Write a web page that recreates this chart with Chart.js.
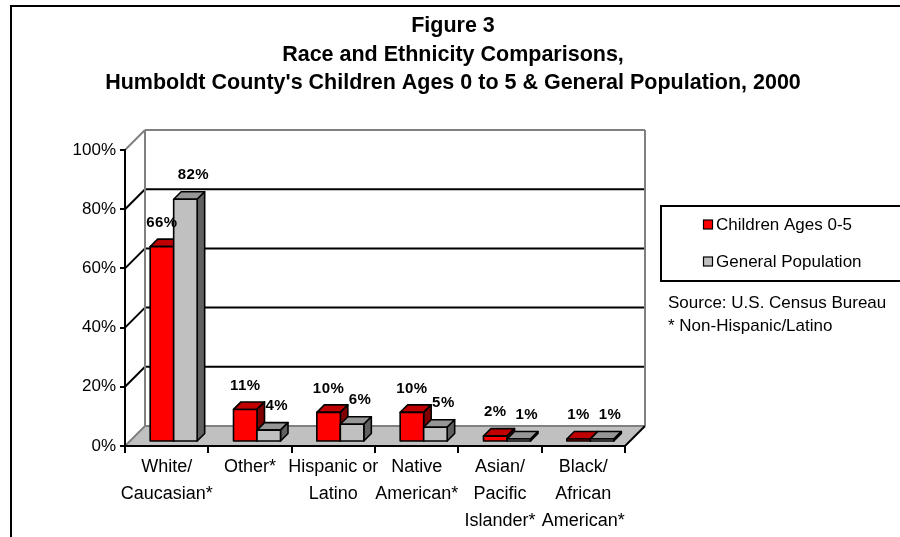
<!DOCTYPE html>
<html>
<head>
<meta charset="utf-8">
<title>Race and Ethnicity Comparisons</title>
<script src="https://cdn.jsdelivr.net/npm/chart.js@4/dist/chart.umd.min.js"></script>
<style>
    html, body { margin: 0; padding: 0; background: #fff; }
    canvas { display: block; }
</style>
</head>
<body>
<canvas id="chart" width="900" height="537"></canvas>
<script>
const FONT = '"Liberation Sans", Arial, sans-serif'

const titleLines = [
    'Figure 3',
    'Race and Ethnicity Comparisons,',
    "Humboldt County's Children Ages 0 to 5 & General Population, 2000"
]
const categories = [
    ['White/', 'Caucasian*'],
    ['Other*'],
    ['Hispanic or', 'Latino'],
    ['Native', 'American*'],
    ['Asian/', 'Pacific', 'Islander*'],
    ['Black/', 'African', 'American*']
]
const childrenPct = [66, 11, 10, 10, 2, 1]
const generalPct = [82, 4, 6, 5, 1, 1]
const yTickStep = 20
const notes = ['Source: U.S. Census Bureau', '* Non-Hispanic/Latino']

// oblique depth: back wall offset, bar front offset, bar thickness
const WALL = 20
const FRONT_X = 7
const FRONT_Y = 4
const DEPTH = 7.5

function poly(ctx, pts, fill, stroke, width) {
    ctx.beginPath()
    ctx.moveTo(pts[0][0], pts[0][1])
    for (let i = 1; i < pts.length; i++) ctx.lineTo(pts[i][0], pts[i][1])
    ctx.closePath()
    if (fill) {
        ctx.fillStyle = fill
        ctx.fill()
    }
    if (stroke) {
        ctx.strokeStyle = stroke
        ctx.lineWidth = width
        ctx.stroke()
    }
}

function line(ctx, x1, y1, x2, y2, color, width) {
    ctx.beginPath()
    ctx.moveTo(x1, y1)
    ctx.lineTo(x2, y2)
    ctx.strokeStyle = color
    ctx.lineWidth = width
    ctx.stroke()
}

const box3d = {
    id: 'box3d',
    beforeDraw(chart) {
        const { ctx, chartArea: a, scales } = chart
        const y = scales.y
        ctx.save()
        ctx.fillStyle = '#fff'
        ctx.fillRect(0, 0, chart.width, chart.height)
        ctx.strokeStyle = '#000'
        ctx.lineWidth = 2
        ctx.strokeRect(11, 6, 900, 540)

        // back wall grid
        for (let v = yTickStep; v < 100; v += yTickStep) {
            const py = y.getPixelForValue(v)
            line(ctx, a.left, py, a.left + WALL, py - WALL, '#000', 2)
            line(ctx, a.left + WALL, py - WALL, a.right + WALL, py - WALL, '#000', 2)
        }
        const top = y.getPixelForValue(100)
        line(ctx, a.left, top, a.left + WALL, top - WALL, '#808080', 2)
        line(ctx, a.left + WALL, top - WALL, a.right + WALL, top - WALL, '#808080', 2)
        line(ctx, a.left + WALL, top - WALL, a.left + WALL, a.bottom - WALL, '#808080', 2)
        line(ctx, a.right + WALL, top - WALL, a.right + WALL, a.bottom - WALL, '#808080', 2)

        // floor
        poly(ctx, [
            [a.left, a.bottom], [a.right, a.bottom],
            [a.right + WALL, a.bottom - WALL], [a.left + WALL, a.bottom - WALL]
        ], '#c0c0c0')
        line(ctx, a.left + WALL, a.bottom - WALL, a.right + WALL, a.bottom - WALL, '#808080', 2)
        line(ctx, a.left, a.bottom, a.left + WALL, a.bottom - WALL, '#808080', 2)
        line(ctx, a.right, a.bottom, a.right + WALL, a.bottom - WALL, '#000', 2)
        ctx.restore()
    },
    afterDatasetsDraw(chart) {
        const { ctx } = chart
        ctx.save()
        ctx.lineJoin = 'round'
        const metas = chart.data.datasets.map((ds, i) => chart.getDatasetMeta(i))
        categories.forEach((cat, i) => {
            metas.forEach((meta, d) => {
                const ds = chart.data.datasets[d]
                const el = meta.data[i]
                const { x, y, base, width } = el.getProps(['x', 'y', 'base', 'width'], true)
                const l = x - width / 2 + FRONT_X
                const r = x + width / 2 + FRONT_X
                const t = y - FRONT_Y
                const b = base - FRONT_Y
                poly(ctx, [[l, t], [r, t], [r + DEPTH, t - DEPTH], [l + DEPTH, t - DEPTH]], ds.topColor, '#000', 1.6)
                poly(ctx, [[r, t], [r + DEPTH, t - DEPTH], [r + DEPTH, b - DEPTH], [r, b]], ds.sideColor, '#000', 1.6)
                poly(ctx, [[l, t], [r, t], [r, b], [l, b]], ds.faceColor, '#000', 1.6)
            })
        })
        // value labels
        ctx.fillStyle = '#000'
        ctx.font = 'bold 15px ' + FONT
        ctx.letterSpacing = '0.5px'
        ctx.textAlign = 'center'
        ctx.textBaseline = 'middle'
        metas.forEach((meta, d) => {
            const ds = chart.data.datasets[d]
            meta.data.forEach((el, i) => {
                const { x, y } = el.getProps(['x', 'y'], true)
                ctx.fillText(ds.data[i] + '%', x + FRONT_X + ds.labelShift, y - FRONT_Y - 24)
            })
        })
        ctx.restore()
    },
    afterDraw(chart) {
        const { ctx } = chart
        ctx.save()
        ctx.fillStyle = '#000'
        ctx.textAlign = 'center'
        ctx.textBaseline = 'alphabetic'
        ctx.font = 'bold 21.5px ' + FONT
        const baselines = [32, 60.5, 89]
        titleLines.forEach((t, i) => ctx.fillText(t, 453, baselines[i]))

        // legend
        ctx.strokeStyle = '#000'
        ctx.lineWidth = 2
        ctx.strokeRect(661, 206, 260, 75)
        ctx.font = '17px ' + FONT
        ctx.textAlign = 'left'
        ctx.textBaseline = 'middle'
        chart.data.datasets.forEach((ds, i) => {
            const cy = 224 + i * 37
            ctx.fillStyle = ds.faceColor
            ctx.fillRect(703.5, cy - 4, 9, 9)
            ctx.lineWidth = 1.2
            ctx.strokeRect(703.5, cy - 4, 9, 9)
            ctx.fillStyle = '#000'
            ctx.fillText(ds.label, 716, cy + 1)
        })
        notes.forEach((n, i) => ctx.fillText(n, 668, 303 + i * 23))
        ctx.restore()
    }
}

const chart = new Chart(document.getElementById('chart').getContext('2d'), {
    type: 'bar',
    data: {
        labels: categories,
        datasets: [
            {
                label: 'Children Ages 0-5',
                data: childrenPct,
                backgroundColor: 'rgba(0,0,0,0)',
                borderColor: 'rgba(0,0,0,0)',
                borderWidth: 0,
                faceColor: '#ff0000',
                topColor: '#c00000',
                sideColor: '#800000',
                labelShift: 0
            },
            {
                label: 'General Population',
                data: generalPct,
                backgroundColor: 'rgba(0,0,0,0)',
                borderColor: 'rgba(0,0,0,0)',
                borderWidth: 0,
                faceColor: '#c0c0c0',
                topColor: '#969696',
                sideColor: '#606060',
                labelShift: 8
            }
        ]
    },
    options: {
        responsive: false,
        animation: false,
        devicePixelRatio: 1,
        layout: { padding: { top: 150, right: 275, left: 0, bottom: 0 } },
        datasets: {
            bar: {
                categoryPercentage: 0.564,
                barPercentage: 1
            }
        },
        plugins: {
            colors: { enabled: false },
            legend: { display: false },
            tooltip: { enabled: false },
            title: { display: false }
        },
        scales: {
            x: {
                offset: true,
                grid: { offset: true, drawOnChartArea: false, color: '#000', lineWidth: 2, tickLength: 7 },
                border: { color: '#000', width: 2 },
                ticks: {
                    color: '#000',
                    font: { family: FONT, size: 18, lineHeight: 1.5 },
                    padding: 1,
                    maxRotation: 0,
                    autoSkip: false
                },
                afterFit: (scale) => { scale.height = 91 }
            },
            y: {
                min: 0,
                max: 100,
                grid: { drawOnChartArea: false, color: '#000', lineWidth: 2, tickLength: 5 },
                border: { color: '#000', width: 2 },
                ticks: {
                    stepSize: yTickStep,
                    color: '#000',
                    font: { family: FONT, size: 17 },
                    padding: 4,
                    callback: (v) => v + '%'
                },
                afterFit: (scale) => { scale.width = 125 }
            }
        }
    },
    plugins: [box3d]
})
</script>
</body>
</html>
